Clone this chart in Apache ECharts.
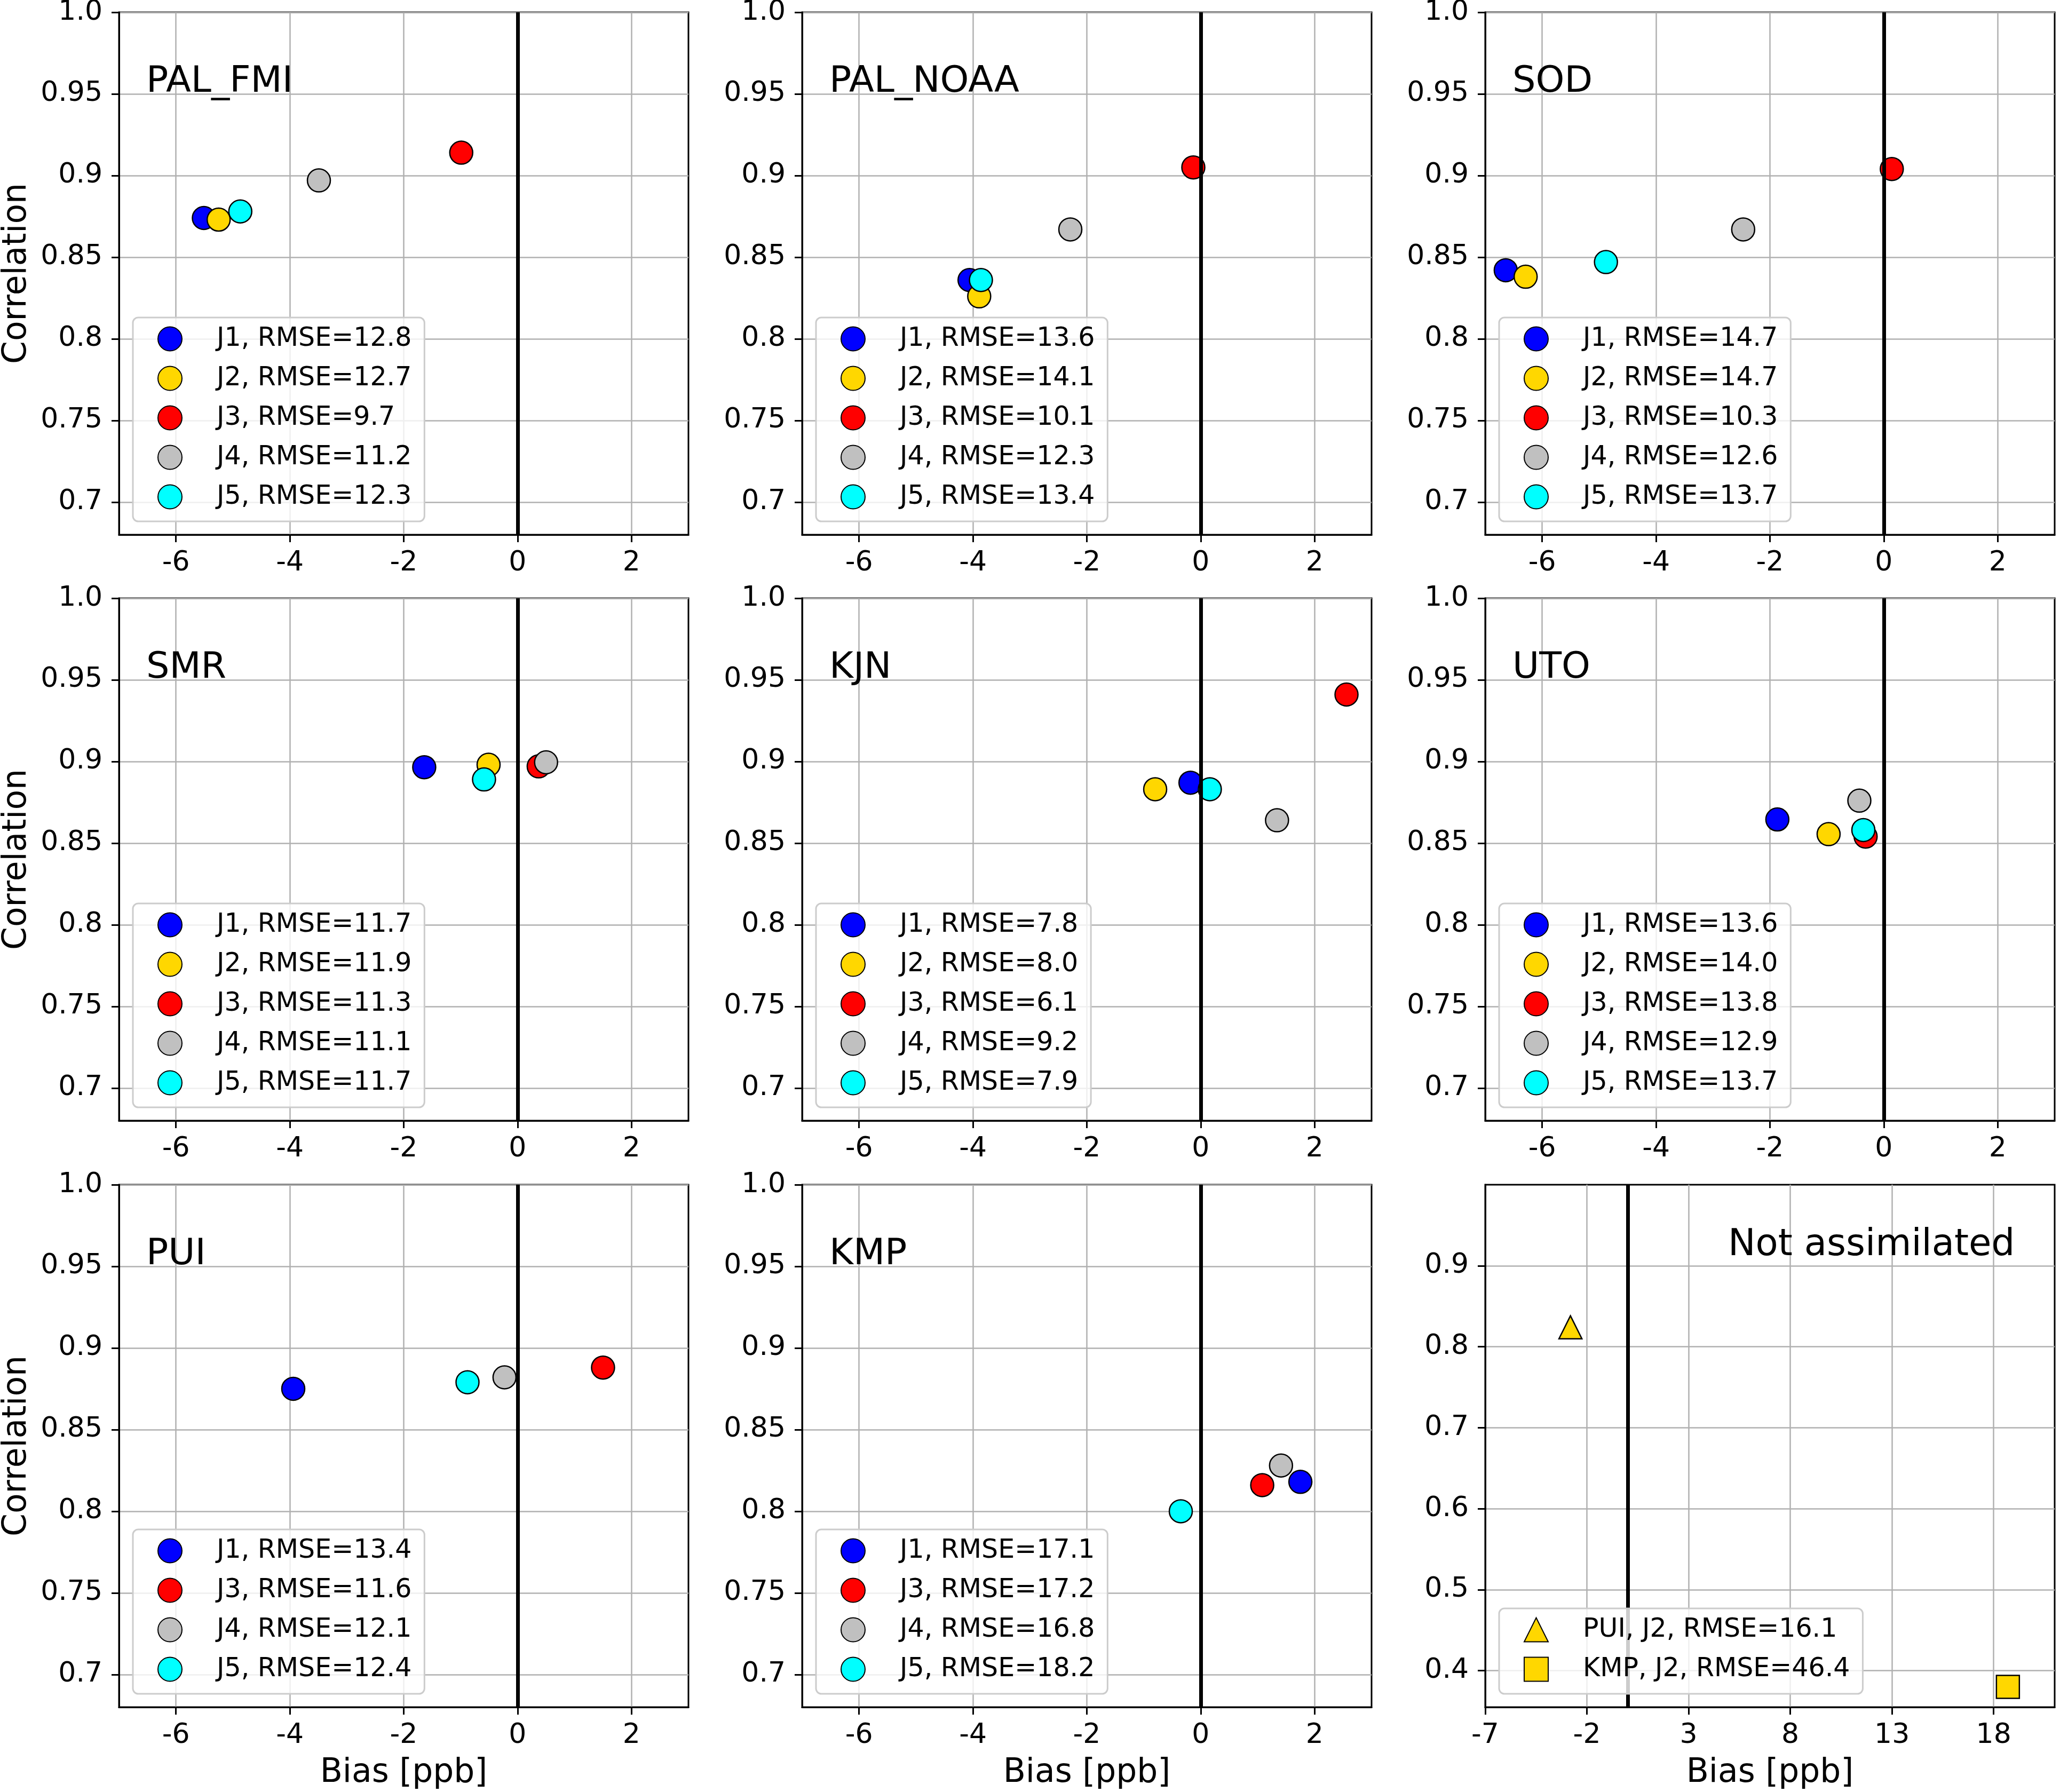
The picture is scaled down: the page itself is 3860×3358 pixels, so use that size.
<!DOCTYPE html>
<html>
<head>
<meta charset="utf-8">
<script src="https://cdn.jsdelivr.net/npm/echarts@6.0.0/dist/echarts.min.js"></script>
<style>
html,body{margin:0;padding:0;background:#fff;}
#chart{width:3860px;height:3358px;}
</style>
</head>
<body>
<div id="chart"></div>
<script>
// ---------- data ----------
const panelNames = ['PAL_FMI', 'PAL_NOAA', 'SOD', 'SMR', 'KJN', 'UTO', 'PUI', 'KMP'];
const runNames = ['J1', 'J2', 'J3', 'J4', 'J5'];
const runColors = ['#0000ff', '#ffd700', '#ff0000', '#c0c0c0', '#00ffff'];

// bias [ppb] per run J1..J5 (null = not shown)
const biasPAL_FMI  = [-5.51, -5.25, -0.99, -3.49, -4.87];
const biasPAL_NOAA = [-4.06, -3.89, -0.13, -2.29, -3.86];
const biasSOD      = [-6.64, -6.29, 0.14, -2.47, -4.88];
const biasSMR      = [-1.64, -0.51, 0.37, 0.50, -0.59];
const biasKJN      = [-0.18, -0.80, 2.56, 1.34, 0.16];
const biasUTO      = [-1.87, -0.97, -0.32, -0.43, -0.36];
const biasPUI      = [-3.94, null, 1.50, -0.23, -0.88];
const biasKMP      = [1.75, null, 1.08, 1.41, -0.35];

// correlation per run J1..J5
const corrPAL_FMI  = [0.874, 0.873, 0.914, 0.897, 0.878];
const corrPAL_NOAA = [0.836, 0.826, 0.905, 0.867, 0.836];
const corrSOD      = [0.842, 0.838, 0.904, 0.867, 0.847];
const corrSMR      = [0.8965, 0.898, 0.897, 0.8995, 0.889];
const corrKJN      = [0.887, 0.883, 0.941, 0.864, 0.883];
const corrUTO      = [0.8645, 0.8555, 0.854, 0.876, 0.858];
const corrPUI      = [0.875, null, 0.888, 0.882, 0.879];
const corrKMP      = [0.818, null, 0.816, 0.828, 0.800];

// RMSE per run J1..J5
const rmsePAL_FMI  = ['12.8', '12.7', '9.7', '11.2', '12.3'];
const rmsePAL_NOAA = ['13.6', '14.1', '10.1', '12.3', '13.4'];
const rmseSOD      = ['14.7', '14.7', '10.3', '12.6', '13.7'];
const rmseSMR      = ['11.7', '11.9', '11.3', '11.1', '11.7'];
const rmseKJN      = ['7.8', '8.0', '6.1', '9.2', '7.9'];
const rmseUTO      = ['13.6', '14.0', '13.8', '12.9', '13.7'];
const rmsePUI      = ['13.4', null, '11.6', '12.1', '12.4'];
const rmseKMP      = ['17.1', null, '17.2', '16.8', '18.2'];

// not assimilated panel
const naTitle = 'Not assimilated';
const naLabels = ['PUI, J2, RMSE=16.1', 'KMP, J2, RMSE=46.4'];
const naBias = [-2.81, 18.70];
const naCorr = [0.824, 0.380];
const naSymbols = ['triangle', 'rect'];
const naColor = '#ffd700';

// axes / ticks
const xTicks = [-6, -4, -2, 0, 2];
const yTicks = [0.7, 0.75, 0.8, 0.85, 0.9, 0.95, 1.0];
const yTickLabels = ['0.7', '0.75', '0.8', '0.85', '0.9', '0.95', '1.0'];
const naXTicks = [-7, -2, 3, 8, 13, 18];
const naYTicks = [0.4, 0.5, 0.6, 0.7, 0.8, 0.9];
const naYTickLabels = ['0.4', '0.5', '0.6', '0.7', '0.8', '0.9'];
const xRange = [-7, 3];
const yRange = [0.68, 1.0];
const naXRange = [-7, 21];
const naYRange = [0.355, 1.0];
const xAxisName = 'Bias [ppb]';
const yAxisName = 'Correlation';

const biasAll = [biasPAL_FMI, biasPAL_NOAA, biasSOD, biasSMR, biasKJN, biasUTO, biasPUI, biasKMP];
const corrAll = [corrPAL_FMI, corrPAL_NOAA, corrSOD, corrSMR, corrKJN, corrUTO, corrPUI, corrKMP];
const rmseAll = [rmsePAL_FMI, rmsePAL_NOAA, rmseSOD, rmseSMR, rmseKJN, rmseUTO, rmsePUI, rmseKMP];

// ---------- layout ----------
const H = 3358;
const FONT = 'DejaVu Sans';
const colLeft = [223, 1503, 2783];
const rowTop = [23, 1121, 2220];
const gW = 1067, gH = 979;
const TICK_FS = 52, NAME_FS = 61.5, TITLE_FS = 68.5, LEGEND_FS = 49;

const grids = [], xAxes = [], yAxes = [], series = [], legends = [], titles = [];

function tickLabelFmt(ticks, labels) {
  return function (v) {
    const k = ticks.findIndex(t => Math.abs(t - v) < 1e-6);
    return k >= 0 ? labels[k] : '';
  };
}

function addPanel(i, xr, yr, xt, yt, ytl) {
  const row = Math.floor(i / 3), col = i % 3;
  grids.push({
    left: colLeft[col], top: rowTop[row], width: gW, height: gH,
    show: true, borderColor: '#000', borderWidth: 3, backgroundColor: 'transparent',
    containLabel: false, outerBoundsMode: 'none'
  });
  xAxes.push({
    type: 'value', gridIndex: i, min: xr[0], max: xr[1],
    name: row === 2 ? xAxisName : '', nameLocation: 'middle', nameGap: 93,
    nameTextStyle: { fontSize: NAME_FS, color: '#000', fontFamily: FONT },
    axisLine: { show: true, onZero: false, lineStyle: { color: '#000', width: 3 } },
    axisTick: { show: true, length: 14, lineStyle: { color: '#000', width: 3 }, customValues: xt },
    axisLabel: { show: true, customValues: xt, fontSize: TICK_FS, color: '#000', fontFamily: FONT, margin: 27,
                 formatter: v => String(v) },
    splitLine: { show: true, lineStyle: { color: '#b0b0b0', width: 2.5 } }
  });
  yAxes.push({
    type: 'value', gridIndex: i, min: yr[0], max: yr[1],
    name: col === 0 ? yAxisName : '', nameLocation: 'middle', nameGap: 160, nameRotate: 90,
    nameTextStyle: { fontSize: NAME_FS, color: '#000', fontFamily: FONT },
    axisLine: { show: true, onZero: false, lineStyle: { color: '#000', width: 3 } },
    axisTick: { show: true, length: 14, lineStyle: { color: '#000', width: 3 }, customValues: yt },
    axisLabel: { show: true, customValues: yt, fontSize: TICK_FS, color: '#000', fontFamily: FONT, margin: 31,
                 formatter: tickLabelFmt(yt, ytl) },
    splitLine: { show: true, lineStyle: { color: '#b0b0b0', width: 2.5 } }
  });
  return { row, col };
}

const zeroMarkLine = {
  silent: true, symbol: ['none', 'none'], label: { show: false },
  lineStyle: { color: '#000', width: 7, type: 'solid' },
  emphasis: { disabled: true },
  data: [{ xAxis: 0 }], z: 3, animation: false
};

function legendFor(row, col, names) {
  return {
    data: names, orient: 'vertical',
    left: colLeft[col] + 26, bottom: H - (rowTop[row] + gH - 25),
    itemWidth: 45, itemHeight: 45, itemGap: 24,
    padding: [15, 24, 21, 46],
    backgroundColor: 'rgba(255,255,255,0.8)', borderColor: '#cccccc', borderWidth: 3, borderRadius: 10,
    selectedMode: false,
    textStyle: { fontSize: LEGEND_FS, lineHeight: 50, color: '#000', fontFamily: FONT, padding: [0, 0, 0, 60] },
    z: 4
  };
}

for (let i = 0; i < panelNames.length; i++) {
  const { row, col } = addPanel(i, xRange, yRange, xTicks, yTicks, yTickLabels);
  const names = [];
  let first = true;
  for (let j = 0; j < runNames.length; j++) {
    const bx = biasAll[i][j], cy = corrAll[i][j];
    if (bx === null) continue;
    const nm = runNames[j] + ', RMSE=' + rmseAll[i][j];
    names.push(nm);
    const s = {
      type: 'scatter', name: nm, xAxisIndex: i, yAxisIndex: i,
      data: [[bx, cy]], symbol: 'circle', symbolSize: 43,
      itemStyle: { color: runColors[j], borderColor: '#000', borderWidth: 2.5, opacity: 1 },
      emphasis: { disabled: true }, z: 2
    };
    if (first) { s.markLine = zeroMarkLine; first = false; }
    series.push(s);
  }
  legends.push(legendFor(row, col, names));
  titles.push({
    text: panelNames[i], left: colLeft[col] + 51, top: rowTop[row] + 97, padding: 0,
    textStyle: { fontSize: TITLE_FS, fontWeight: 'normal', color: '#000', fontFamily: FONT }
  });
}

// panel 9: not assimilated
{
  const i = 8;
  const { row, col } = addPanel(i, naXRange, naYRange, naXTicks, naYTicks, naYTickLabels);
  for (let k = 0; k < naLabels.length; k++) {
    const s = {
      type: 'scatter', name: naLabels[k], xAxisIndex: i, yAxisIndex: i,
      data: [[naBias[k], naCorr[k]]], symbol: naSymbols[k], symbolSize: 43,
      itemStyle: { color: naColor, borderColor: '#000', borderWidth: 2.5, opacity: 1 },
      emphasis: { disabled: true }, z: 2
    };
    if (k === 0) s.markLine = zeroMarkLine;
    series.push(s);
  }
  legends.push(legendFor(row, col, naLabels));
  titles.push({
    text: naTitle, left: 3238, top: 2300, padding: 0,
    textStyle: { fontSize: 69, fontWeight: 'normal', color: '#000', fontFamily: FONT }
  });
}

const chart = echarts.init(document.getElementById('chart'), null, { renderer: 'canvas' });
chart.setOption({
  animation: false,
  backgroundColor: '#ffffff',
  textStyle: { fontFamily: FONT },
  title: titles,
  legend: legends,
  grid: grids,
  xAxis: xAxes,
  yAxis: yAxes,
  series: series
});
</script>
</body>
</html>
